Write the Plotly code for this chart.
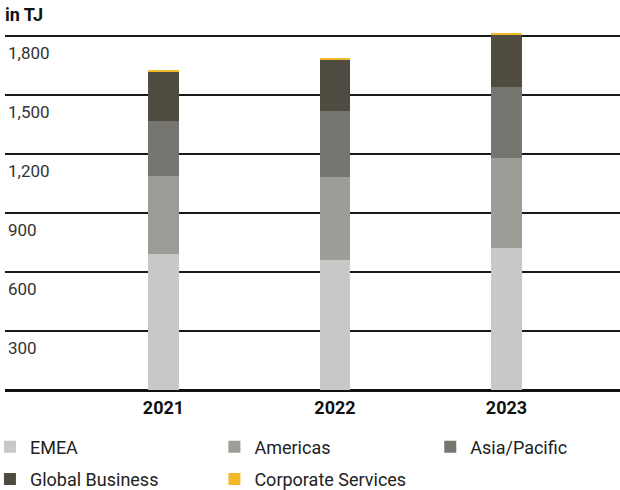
import plotly.graph_objects as go

years = ["2021", "2022", "2023"]
emea = [690, 663, 722]
americas = [400, 419, 458]
asia_pacific = [278, 337, 361]
global_business = [251, 261, 264]
corporate_services = [3, 3, 5]

series = [
    ("EMEA", emea, "#c8c8c6"),
    ("Americas", americas, "#9d9c97"),
    ("Asia/Pacific", asia_pacific, "#76756f"),
    ("Global Business", global_business, "#4f4b40"),
    ("Corporate Services", corporate_services, "#f2b92a"),
]

tick_vals = [300, 600, 900, 1200, 1500, 1800]
tick_text = ["300", "600", "900", "1,200", "1,500", "1,800"]

FONT = "Roboto, sans-serif"

# legend slot positions (paper coords): column x, row y
legend_pos = [(-0.0245, -0.157), (0.3405, -0.157), (0.6915, -0.157),
              (-0.0245, -0.245), (0.3405, -0.245)]
legend_ids = ["legend", "legend2", "legend3", "legend4", "legend5"]

fig = go.Figure()
for (name, vals, col), lg in zip(series, legend_ids):
    fig.add_trace(go.Bar(
        x=years, y=vals, name=name,
        marker=dict(color=col, line=dict(width=0)),
        width=0.18, legend=lg,
    ))

legend_layout = {}
for lg, (lx, ly) in zip(legend_ids, legend_pos):
    legend_layout[lg] = dict(
        x=lx, y=ly, xanchor="left", yanchor="middle",
        orientation="h",
        font=dict(family=FONT, size=18, color="#222222"),
        bgcolor="rgba(0,0,0,0)", borderwidth=0,
    )

fig.update_layout(
    width=620, height=490,
    barmode="stack",
    plot_bgcolor="white", paper_bgcolor="white",
    margin=dict(l=5, r=0, t=26, b=100, autoexpand=False),
    font=dict(family=FONT, size=16, color="#222222"),
    title=dict(text="<b>in TJ</b>", x=0.008, xanchor="left", y=0.969, yanchor="middle",
               font=dict(family=FONT, size=18, color="#111111")),
    xaxis=dict(
        type="category",
        range=[-0.924, 2.662],
        showgrid=False, showline=False, ticks="",
        automargin=False,
        ticklabelstandoff=5,
        tickfont=dict(family=FONT, size=18, color="#111111", weight="bold"),
    ),
    yaxis=dict(
        range=[0, 1850],
        tickvals=tick_vals, ticktext=tick_text,
        showgrid=True, gridcolor="#1a1a1a", gridwidth=1.5,
        zeroline=True, zerolinecolor="#111111", zerolinewidth=3,
        showline=False, ticks="",
        automargin=False,
        ticklabelposition="inside",
        ticklabelshift=17,
        tickfont=dict(family=FONT, size=17, color="#333333"),
    ),
    showlegend=True,
    **legend_layout,
)

fig.write_html(
    "out.html",
    config={"displayModeBar": False},
    post_script=(
        "document.documentElement.style.margin='0';"
        "document.documentElement.style.overflow='hidden';"
        "document.body.style.margin='0';"
        "document.body.style.overflow='hidden';"
    ),
)
